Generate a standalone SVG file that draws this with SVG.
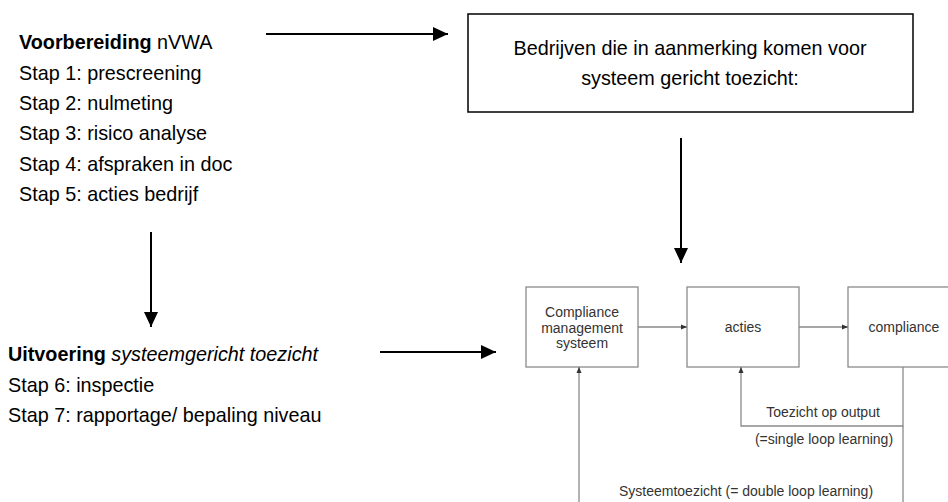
<svg xmlns="http://www.w3.org/2000/svg" width="948" height="502" viewBox="0 0 948 502">
<defs>
<style>
.t{font-family:"Liberation Sans",Arial,sans-serif;font-size:19.8px;fill:#000}
.s{font-family:"Liberation Sans",Arial,sans-serif;font-size:14px;fill:#333}
.bk{stroke:#000;stroke-width:2;fill:none}
.gr{stroke:#8a8a8a;stroke-width:1.3;fill:none}
.gbox{stroke:#8a8a8a;stroke-width:1.3;fill:#fff}
</style>
<marker id="ah" markerWidth="15" markerHeight="14" refX="15" refY="7" orient="auto" markerUnits="userSpaceOnUse">
<path d="M0,0 L15,7 L0,14 Z" fill="#000"/>
</marker>
<marker id="gh" markerWidth="6" markerHeight="6" refX="6" refY="3" orient="auto" markerUnits="userSpaceOnUse">
<path d="M0,0.5 L6,3 L0,5.5 Z" fill="#333"/>
</marker>
</defs>
<rect width="948" height="502" fill="#fff"/>

<g id="voorbereiding">
<text class="t" x="19" y="49"><tspan font-weight="bold">Voorbereiding</tspan> nVWA</text>
<text class="t" x="19" y="80">Stap 1: prescreening</text>
<text class="t" x="19" y="110">Stap 2: nulmeting</text>
<text class="t" x="19" y="140">Stap 3: risico analyse</text>
<text class="t" x="19" y="171">Stap 4: afspraken in doc</text>
<text class="t" x="19" y="201">Stap 5: acties bedrijf</text>
</g>

<g id="uitvoering">
<text class="t" x="8" y="361"><tspan font-weight="bold">Uitvoering</tspan> <tspan font-style="italic">systeemgericht toezicht</tspan></text>
<text class="t" x="8" y="392">Stap 6: inspectie</text>
<text class="t" x="8" y="422">Stap 7: rapportage/ bepaling niveau</text>
</g>

<g id="bedrijven">
<rect x="468" y="14" width="445" height="98" fill="#fff" stroke="#000" stroke-width="1.5"/>
<text class="t" x="690" y="55" text-anchor="middle">Bedrijven die in aanmerking komen voor</text>
<text class="t" x="690" y="85" text-anchor="middle">systeem gericht toezicht:</text>
</g>

<g id="cms">
<rect class="gbox" x="526" y="287" width="112" height="80"/>
<text class="s" x="582" y="317" text-anchor="middle">Compliance</text>
<text class="s" x="582" y="333" text-anchor="middle">management</text>
<text class="s" x="582" y="348" text-anchor="middle">systeem</text>
</g>

<g id="acties">
<rect class="gbox" x="687" y="287" width="112" height="80"/>
<text class="s" x="743" y="332" text-anchor="middle">acties</text>
</g>

<g id="compliance">
<rect class="gbox" x="848" y="287" width="112" height="80"/>
<text class="s" x="904" y="332" text-anchor="middle">compliance</text>
</g>

<g id="connectors">
<line class="bk" x1="266" y1="34" x2="448" y2="34" marker-end="url(#ah)"/>
<line class="bk" x1="681" y1="138" x2="681" y2="263" marker-end="url(#ah)"/>
<line class="bk" x1="151" y1="232" x2="151" y2="327" marker-end="url(#ah)"/>
<line class="bk" x1="380" y1="352" x2="496" y2="352" marker-end="url(#ah)"/>
<line class="gr" x1="638" y1="327" x2="687" y2="327" marker-end="url(#gh)"/>
<line class="gr" x1="799" y1="327" x2="848" y2="327" marker-end="url(#gh)"/>
<polyline class="gr" points="903,367 903,426 741,426 741,367" marker-end="url(#gh)"/>
<line class="gr" x1="903" y1="426" x2="903" y2="502"/>
<line class="gr" x1="579" y1="502" x2="579" y2="367" marker-end="url(#gh)"/>
<text class="s" x="823" y="417" text-anchor="middle">Toezicht op output</text>
<text class="s" x="824" y="444" text-anchor="middle">(=single loop learning)</text>
<text class="s" x="746" y="496" text-anchor="middle">Systeemtoezicht (= double loop learning)</text>
</g>
</svg>
